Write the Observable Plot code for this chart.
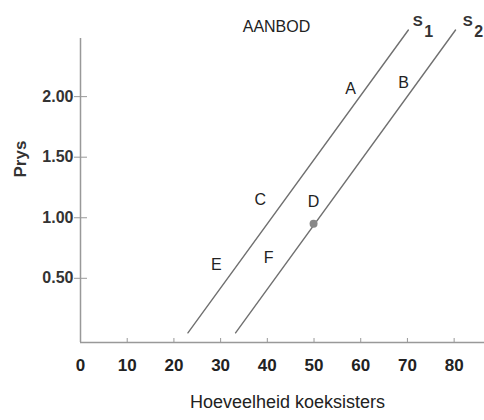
<!DOCTYPE html>
<html>
<head>
<meta charset="utf-8">
<script src="https://cdn.jsdelivr.net/npm/d3@7"></script>
<script src="https://cdn.jsdelivr.net/npm/@observablehq/plot@0.6"></script>
<style>
  body { margin: 0; background: #fff; }
  #chart svg { display: block; font-family: "Liberation Sans", Arial, sans-serif; }
</style>
</head>
<body>
<div id="chart"></div>
<script>
// Supply curves (quantity, price)
const s1 = [{x: 23, y: 0.05}, {x: 70.2, y: 2.55}];
const s2 = [{x: 33.2, y: 0.05}, {x: 80.3, y: 2.55}];
const curveNames = [{name: "S", sub: "1", x: 72.2, y: 2.62}, {name: "S", sub: "2", x: 82.9, y: 2.62}];
// Point labels
const pointLabels = [
  {t: "A", x: 57.8, y: 2.06},
  {t: "B", x: 69.2, y: 2.11},
  {t: "C", x: 38.5, y: 1.15},
  {t: "D", x: 49.9, y: 1.13},
  {t: "E", x: 29.1, y: 0.61},
  {t: "F", x: 40.3, y: 0.67}
];
const dotD = [{x: 49.9, y: 0.95}];
const xTicks = [0, 10, 20, 30, 40, 50, 60, 70, 80];
const yTicks = [0.5, 1, 1.5, 2];
const title = "AANBOD";
const xLabel = "Hoeveelheid koeksisters";
const yLabel = "Prys";

const plot = Plot.plot({
  width: 484,
  height: 420,
  marginLeft: 80,
  marginRight: 0,
  marginTop: 38,
  marginBottom: 78,
  x: {domain: [0, 86.5]},
  y: {domain: [-0.03, 2.48]},
  style: {fontFamily: "Liberation Sans, Arial, sans-serif", background: "#fff"},
  marks: [
    Plot.ruleX([0], {stroke: "#999", strokeWidth: 1.5}),
    Plot.ruleY([-0.03], {stroke: "#999", strokeWidth: 1.5}),
    // y ticks (straddling axis) and labels
    Plot.axisY({ticks: yTicks, tickSize: 13, dx: 7, tickPadding: 1, tickFormat: d3.format(".2f"),
      stroke: "#999", fill: "#333", fontSize: 16, fontWeight: "bold", label: null}),
    // x ticks (upward)
    Plot.axisX({ticks: xTicks.filter(d => d > 0), tickSize: 4, dy: -4, text: null, stroke: "#999", label: null}),
    // x tick labels
    Plot.axisX({ticks: xTicks, tickSize: 0, tickPadding: 16, stroke: null, fill: "#222",
      fontSize: 17, fontWeight: "bold", label: null}),
    Plot.line(s1, {x: "x", y: "y", stroke: "#707070", strokeWidth: 1.4, clip: false}),
    Plot.line(s2, {x: "x", y: "y", stroke: "#707070", strokeWidth: 1.4, clip: false}),
    Plot.dot(dotD, {x: "x", y: "y", r: 4, fill: "#888", stroke: null}),
    Plot.text(pointLabels, {x: "x", y: "y", text: "t", fontSize: 16, fill: "#222"}),
    Plot.text(curveNames, {x: "x", y: "y", text: "name", fontSize: 15, fontWeight: "bold", fill: "#333"}),
    Plot.text(curveNames, {x: "x", y: "y", text: "sub", fontSize: 16, fontWeight: "bold", fill: "#333", dx: 11, dy: 10}),
    Plot.text([title], {frameAnchor: "top", dx: -6, dy: -18, fontSize: 16, fill: "#222", letterSpacing: "0.6px"}),
    Plot.text([xLabel], {frameAnchor: "bottom", dx: 5, dy: 65, fontSize: 18, fill: "#222", letterSpacing: "1.1px"}),
    Plot.text([yLabel], {frameAnchor: "left", dx: -60, dy: -13, rotate: -90, fontSize: 17, fontWeight: "bold", fill: "#333"})
  ]
});
document.getElementById("chart").append(plot);
</script>
</body>
</html>
